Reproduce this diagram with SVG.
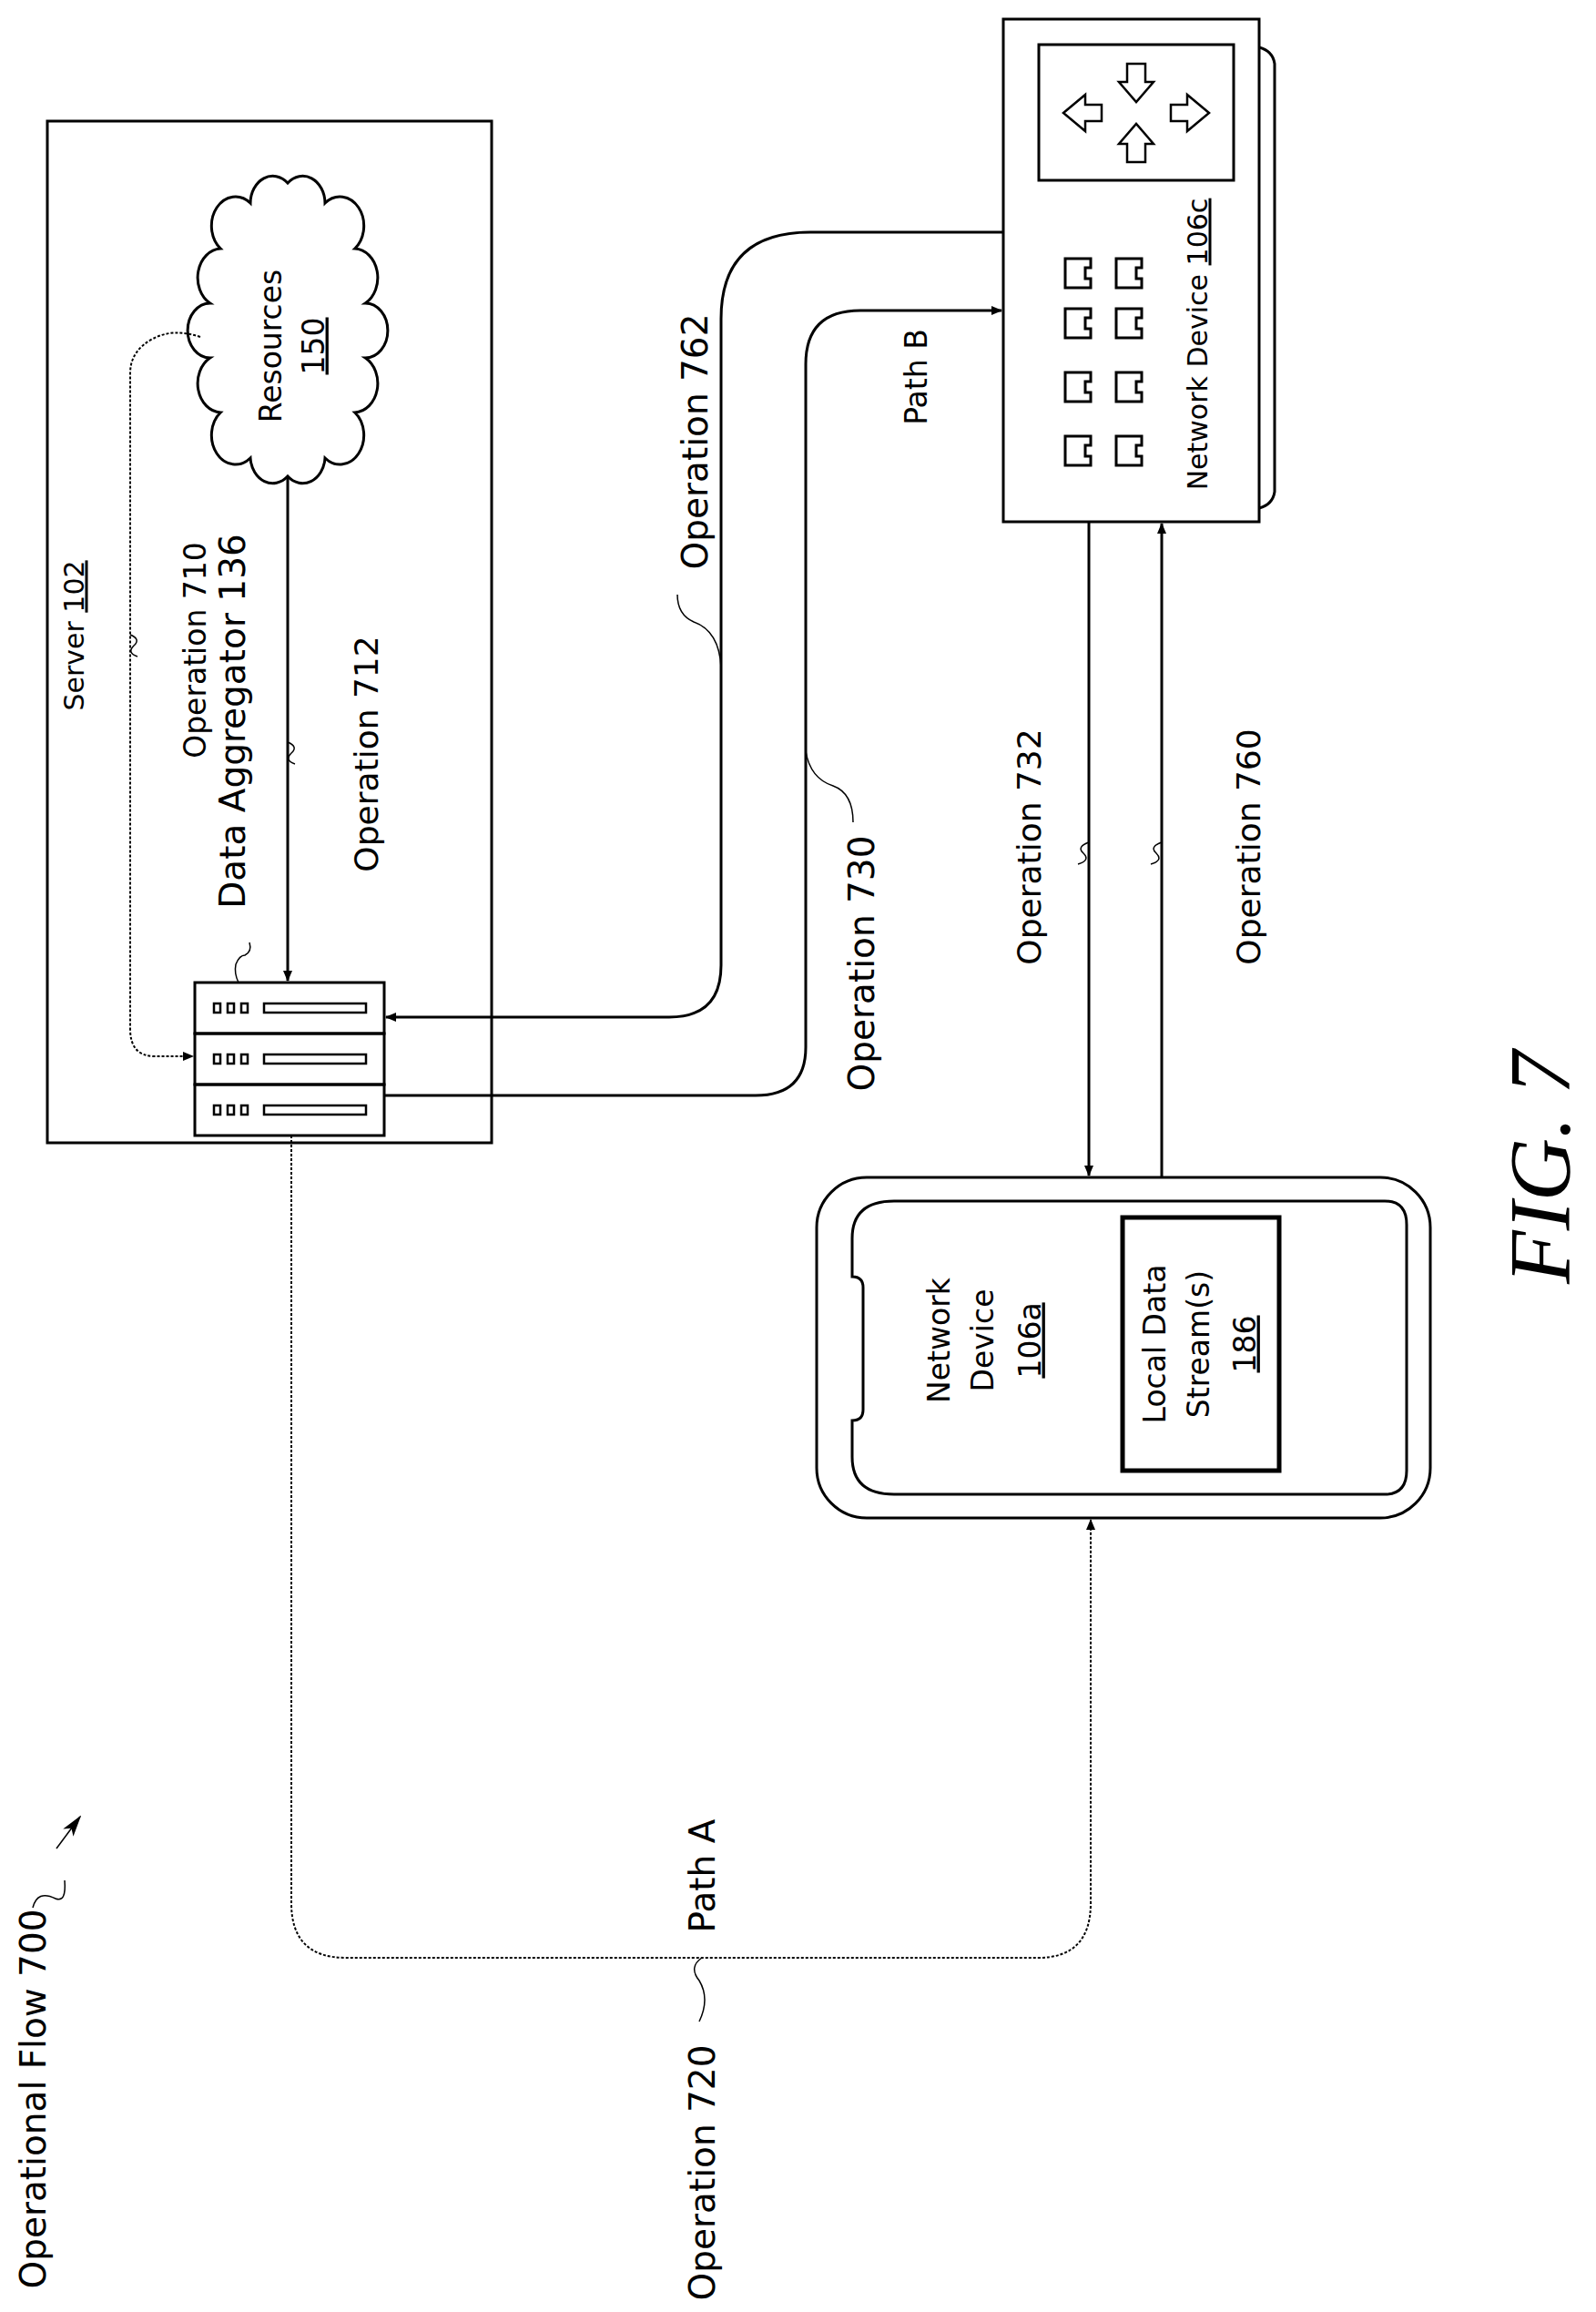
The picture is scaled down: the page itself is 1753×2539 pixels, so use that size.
<svg xmlns="http://www.w3.org/2000/svg" width="1753" height="2539" viewBox="0 0 1753 2539">
<style>
.t{font-family:"DejaVu Sans",sans-serif;font-size:33px;fill:#000;text-anchor:middle}
.b{font-size:39px}
.s{fill:none;stroke:#000;stroke-width:3}
.d{fill:none;stroke:#000;stroke-width:2;stroke-dasharray:3 2}
.l{fill:none;stroke:#000;stroke-width:1.5}
</style>
<defs>
<marker id="a" markerWidth="12" markerHeight="10" refX="11" refY="5" orient="auto" markerUnits="userSpaceOnUse"><path d="M0,0 L12,5 L0,10 Z" fill="#000"/></marker>
<marker id="a2" markerWidth="24" markerHeight="14" refX="22" refY="7" orient="auto" markerUnits="userSpaceOnUse"><path d="M0,0 L24,7 L0,14 L6,7 Z" fill="#000"/></marker>
</defs>
<rect width="1753" height="2539" fill="#fff"/>
<g id="server">
<rect class="s" x="52" y="133" width="488" height="1122"/>
<text class="t" style="font-size:30px" transform="translate(81,698) rotate(-90)" dy=".35em">Server <tspan text-decoration="underline">102</tspan></text>
</g>
<g id="resources">
<path class="s" transform="translate(316,0) scale(0.82,1) translate(-316,0)" d="M316,523 a30,30 0 0 1 -50,-20 a32,32 0 0 1 -40,-50 a32,32 0 0 1 -14,-60 a30,30 0 0 1 0,-60 a32,32 0 0 1 14,-60 a32,32 0 0 1 40,-50 a30,30 0 0 1 50,-22 a30,30 0 0 1 50,22 a32,32 0 0 1 40,50 a32,32 0 0 1 14,60 a30,30 0 0 1 0,60 a32,32 0 0 1 -14,60 a32,32 0 0 1 -40,50 a30,30 0 0 1 -50,20 Z" vector-effect="non-scaling-stroke"/>
<text class="t" transform="translate(297,380) rotate(-90)" dy=".35em">Resources</text>
<text class="t" transform="translate(344,380) rotate(-90)" dy=".35em" text-decoration="underline">150</text>
</g>
<g id="aggregator">
<rect class="s" x="214" y="1079" width="208" height="56" fill="#fff"/>
<rect class="s" x="214" y="1135" width="208" height="56" fill="#fff"/>
<rect class="s" x="214" y="1191" width="208" height="56" fill="#fff"/>
<g fill="none" stroke="#000" stroke-width="2.5">
<rect x="235" y="1102" width="7" height="10"/><rect x="250" y="1102" width="7" height="10"/><rect x="265" y="1102" width="7" height="10"/><rect x="290" y="1102" width="112" height="10"/>
<rect x="235" y="1158" width="7" height="10"/><rect x="250" y="1158" width="7" height="10"/><rect x="265" y="1158" width="7" height="10"/><rect x="290" y="1158" width="112" height="10"/>
<rect x="235" y="1214" width="7" height="10"/><rect x="250" y="1214" width="7" height="10"/><rect x="265" y="1214" width="7" height="10"/><rect x="290" y="1214" width="112" height="10"/>
</g>
<path class="l" d="M262,1079 q-5,-10 -3,-20 q4,-10 10,-10 q8,-4 5,-14"/>
<text class="t b" transform="translate(255,792) rotate(-90)" dy=".35em">Data Aggregator 136</text>
</g>
<g id="device106c">
<path class="s" d="M1383,52 Q1398,56 1400,70 L1400,540 Q1398,554 1383,558"/>
<rect class="s" x="1102" y="21" width="281" height="552" fill="#fff"/>
<rect class="s" x="1141" y="49" width="214" height="149"/>
<g fill="none" stroke="#000" stroke-width="2.5">
<path d="M1248,70 l-10,0 0,20 -9,0 19,22 19,-22 -9,0 0,-20 Z"/>
<path d="M1248,178 l-10,0 0,-20 -9,0 19,-22 19,22 -9,0 0,20 Z"/>
<path d="M1168,124 l24,-20 0,11 18,0 0,18 -18,0 0,11 Z"/>
<path d="M1328,124 l-24,-20 0,11 -18,0 0,18 18,0 0,11 Z"/>
</g>
<g fill="none" stroke="#000" stroke-width="3">
<path id="pt" d="M1170,284 h28 v10 h-6 v12 h6 v10 h-28 Z"/>
<use href="#pt" x="56"/>
<use href="#pt" y="55"/><use href="#pt" x="56" y="55"/>
<use href="#pt" y="125"/><use href="#pt" x="56" y="125"/>
<use href="#pt" y="195"/><use href="#pt" x="56" y="195"/>
</g>
<text class="t" style="font-size:30px" transform="translate(1315,378) rotate(-90)" dy=".35em">Network Device <tspan text-decoration="underline">106c</tspan></text>
</g>
<g id="device106a">
<rect class="s" x="897" y="1293" width="674" height="374" rx="55"/>
<path class="s" d="M982,1319 L1521,1319 Q1545,1319 1545,1345 L1545,1615 Q1545,1641 1521,1641 L982,1641 Q936,1641 936,1600 L936,1560 Q948,1560 948,1548 L948,1414 Q948,1402 936,1402 L936,1360 Q936,1319 982,1319 Z"/>
<text class="t" transform="translate(1031,1472) rotate(-90)" dy=".35em">Network</text>
<text class="t" transform="translate(1079,1472) rotate(-90)" dy=".35em">Device</text>
<text class="t" transform="translate(1131,1472) rotate(-90)" dy=".35em" text-decoration="underline">106a</text>
<rect x="1233" y="1337" width="172" height="278" fill="none" stroke="#000" stroke-width="5"/>
<text class="t" transform="translate(1268,1476) rotate(-90)" dy=".35em">Local Data</text>
<text class="t" transform="translate(1316,1476) rotate(-90)" dy=".35em">Stream(s)</text>
<text class="t" transform="translate(1367,1476) rotate(-90)" dy=".35em" text-decoration="underline">186</text>
</g>
<g id="connectors">
<path class="s" d="M316,523 L316,1077" marker-end="url(#a)"/>
<path class="d" d="M220,370 Q190,360 168,372 Q143,385 143,410 L143,1130 Q143,1160 170,1160 L212,1160" marker-end="url(#a)"/>
<path class="s" d="M1102,255 L890,255 Q792,255 792,350 L792,1060 Q792,1117 735,1117 L424,1117" marker-end="url(#a)"/>
<path class="s" d="M422,1203 L830,1203 Q885,1203 885,1150 L885,400 Q885,341 945,341 L1100,341" marker-end="url(#a)"/>
<path class="s" d="M1196,573 L1196,1291" marker-end="url(#a)"/>
<path class="s" d="M1276,1293 L1276,575" marker-end="url(#a)"/>
<path class="d" d="M320,1247 L320,2090 Q320,2150 380,2150 L1140,2150 Q1198,2150 1198,2090 L1198,1669" marker-end="url(#a)"/>
<path class="l" d="M143,697 q12,5 4,12 q-8,8 4,12"/>
<path class="l" d="M316,815 q12,5 4,12 q-8,8 4,12"/>
<path class="l" d="M792,733 q-2,-40 -30,-50 q-18,-8 -18,-30"/>
<path class="l" d="M885,825 q5,30 30,38 q22,8 22,40"/>
<path class="l" d="M1196,925 q-14,5 -6,12 q8,8 -6,12"/>
<path class="l" d="M1276,925 q-14,5 -6,12 q8,8 -6,12"/>
<path class="l" d="M771,2150 q-15,10 -3,25 q12,20 0,45"/>
<path class="l" d="M36,2095 q5,-20 25,-10 q12,5 10,-20"/>
<path d="M62,2030 L88,1995" class="l" marker-end="url(#a2)"/>
</g>
<g id="labels">
<text class="t" transform="translate(214,714) rotate(-90)" dy=".35em">Operation 710</text>
<text class="t" style="font-size:36px" transform="translate(402,828) rotate(-90)" dy=".35em">Operation 712</text>
<text class="t b" transform="translate(763,485) rotate(-90)" dy=".35em">Operation 762</text>
<text class="t" transform="translate(1006,414) rotate(-90)" dy=".35em">Path B</text>
<text class="t b" transform="translate(946,1058) rotate(-90)" dy=".35em">Operation 730</text>
<text class="t" style="font-size:36px" transform="translate(1130,930) rotate(-90)" dy=".35em">Operation 732</text>
<text class="t" style="font-size:36px" transform="translate(1371,930) rotate(-90)" dy=".35em">Operation 760</text>
<text class="t b" transform="translate(771,2060) rotate(-90)" dy=".35em">Path A</text>
<text class="t b" transform="translate(771,2386) rotate(-90)" dy=".35em">Operation 720</text>
<text class="t b" transform="translate(36,2305) rotate(-90)" dy=".35em">Operational Flow 700</text>
<text transform="translate(1690,1282) rotate(-90)" dy=".35em" text-anchor="middle" font-family="Liberation Serif,serif" font-style="italic" font-size="96">FIG. 7</text>
</g>
</svg>
